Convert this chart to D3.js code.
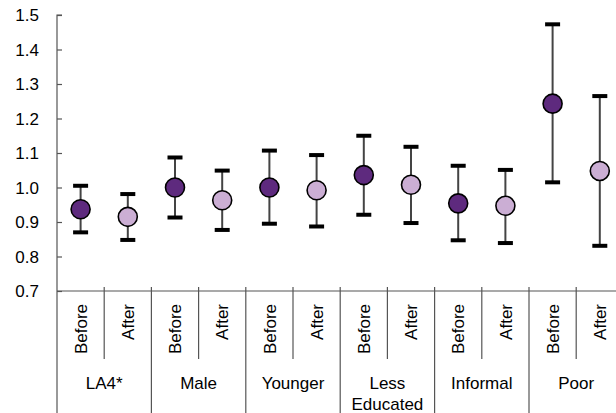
<!DOCTYPE html>
<html><head><meta charset="utf-8">
<script src="https://cdn.jsdelivr.net/npm/d3@7"></script>
<style>html,body{margin:0;padding:0;background:#fff;} svg{display:block;font-family:Arial,"Liberation Sans",sans-serif;}</style>
</head><body>
<svg id="c" width="616" height="413"></svg>
<script>
const groups = ["LA4*", "Male", "Younger", "Less\nEducated", "Informal", "Poor"];
const phases = ["Before", "After"];
const pointValues = [0.937, 0.915, 1.000, 0.963, 1.000, 0.992, 1.036, 1.008, 0.954, 0.947, 1.243, 1.048];
const upperValues = [1.005, 0.981, 1.087, 1.049, 1.107, 1.094, 1.150, 1.118, 1.063, 1.051, 1.473, 1.265];
const lowerValues = [0.870, 0.848, 0.913, 0.877, 0.895, 0.887, 0.921, 0.897, 0.847, 0.839, 1.015, 0.831];
const yTicks = [0.7, 0.8, 0.9, 1.0, 1.1, 1.2, 1.3, 1.4, 1.5];
const colors = {Before: "#5e2a7e", After: "#cbaed4"};

const svg = d3.select("#c");
const x0 = 57, slotW = 47.2;
const slots = [];
groups.forEach((g, gi) => phases.forEach((p, pi) => slots.push({g, p, i: gi * 2 + pi})));
const x = d3.scaleBand().domain(slots.map(d => d.i)).range([x0, x0 + slotW * slots.length]).padding(0);
const y = d3.scaleLinear().domain([0.7, 1.5]).range([291, 15]);
const axisY = y(0.7);
const fs = 17;

// y axis
const ya = svg.append("g").attr("transform", `translate(${x0},0)`)
  .call(d3.axisRight(y).tickValues(yTicks).tickSize(5).tickFormat(""));
ya.select(".domain").attr("stroke", "#555").attr("stroke-width", 1.2).attr("d", `M5,${y(1.5)}H0V${y(0.7)}H0`);
ya.selectAll(".tick line").attr("stroke", "#555").attr("stroke-width", 1.2);
svg.append("g").selectAll("text").data(yTicks).join("text")
  .attr("x", 39).attr("y", d => y(d)).attr("dy", "0.36em").attr("text-anchor", "end")
  .attr("font-size", fs).attr("fill", "#000").text(d => d.toFixed(1));

// x axis line
svg.append("line").attr("x1", x0).attr("x2", 616).attr("y1", axisY).attr("y2", axisY)
  .attr("stroke", "#555").attr("stroke-width", 1.2);
// separators
slots.forEach(s => {
  const xr = x(s.i) + x.bandwidth();
  const major = s.p === "After";
  svg.append("line").attr("x1", xr).attr("x2", xr).attr("y1", axisY - 4).attr("y2", major ? 413 : 359)
    .attr("stroke", "#555").attr("stroke-width", 1.2);
});
svg.append("line").attr("x1", x0).attr("x2", x0).attr("y1", axisY).attr("y2", 413)
  .attr("stroke", "#555").attr("stroke-width", 1.2);

// phase labels
svg.append("g").selectAll("text").data(slots).join("text")
  .attr("transform", d => `translate(${x(d.i) + x.bandwidth() / 2},304) rotate(-90)`)
  .attr("text-anchor", "end").attr("dy", "0.36em").attr("font-size", fs).text(d => d.p);

// group labels
groups.forEach((g, gi) => {
  const cx = x(gi * 2) + x.bandwidth();
  const lines = g.split("\n");
  const t = svg.append("text").attr("x", cx).attr("y", 389).attr("text-anchor", "middle").attr("font-size", fs);
  lines.forEach((l, li) => t.append("tspan").attr("x", cx).attr("dy", li ? 21 : 0).text(l));
});

// error bars
const cx = i => x(i) + x.bandwidth() / 2;
const eb = svg.append("g");
slots.forEach(s => {
  eb.append("line").attr("x1", cx(s.i)).attr("x2", cx(s.i)).attr("y1", y(upperValues[s.i])).attr("y2", y(lowerValues[s.i]))
    .attr("stroke", "#444").attr("stroke-width", 2);
  [upperValues[s.i], lowerValues[s.i]].forEach(v => {
    eb.append("line").attr("x1", cx(s.i) - 7.5).attr("x2", cx(s.i) + 7.5).attr("y1", y(v)).attr("y2", y(v))
      .attr("stroke", "#000").attr("stroke-width", 4);
  });
});
svg.append("g").selectAll("circle").data(slots).join("circle")
  .attr("cx", d => cx(d.i)).attr("cy", d => y(pointValues[d.i])).attr("r", 9.5)
  .attr("fill", d => colors[d.p]).attr("stroke", "#000").attr("stroke-width", 1.6);
</script>
</body></html>
